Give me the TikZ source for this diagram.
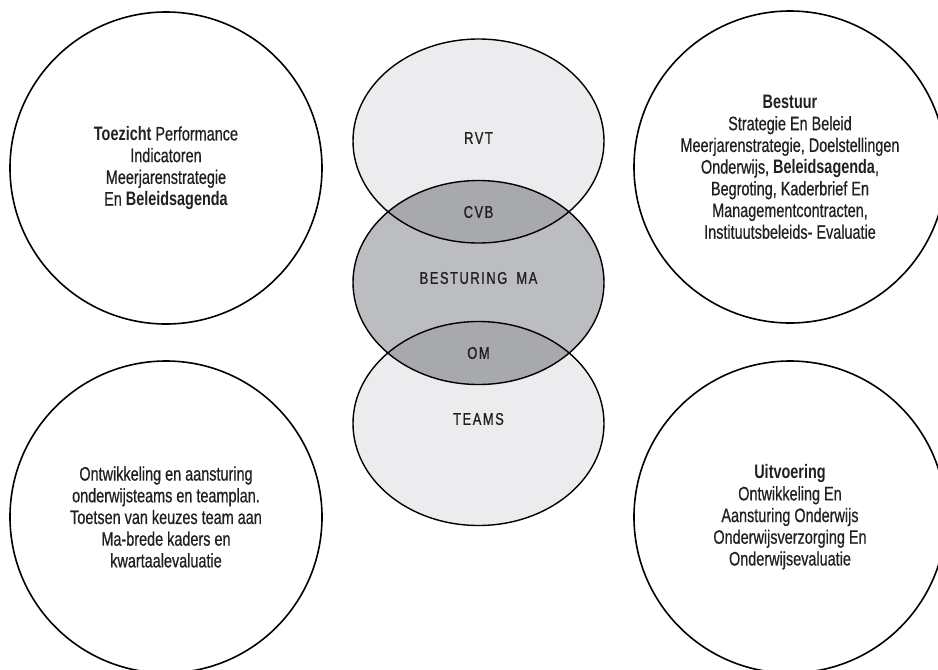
\documentclass[tikz,border=0pt]{standalone}
\usepackage{fontspec}
\setmainfont{Liberation Sans}[FakeStretch=0.74, UprightFeatures={FakeBold=0.6}]
\newfontfamily\labelfont{Liberation Sans}[FakeStretch=0.76, LetterSpace=9, UprightFeatures={FakeBold=0.9}]
\usetikzlibrary{shapes.geometric}
\definecolor{ink}{HTML}{231F20}
\definecolor{paleFill}{HTML}{ECECEE}
\definecolor{midFill}{HTML}{BCBDC0}
\definecolor{darkFill}{HTML}{A8A9AC}

\begin{document}
\begin{tikzpicture}[x=1pt, y=-1pt,
  outer/.style={circle, draw=black, line width=1.6pt, minimum size=312pt,
    inner sep=0pt, align=center, text=ink, font=\fontsize{19.5}{21.7}\selectfont},
  vennfill/.style={ellipse, minimum width=251pt, minimum height=204pt, inner sep=0pt},
  vennline/.style={draw=black, line width=1.4pt},
  tag/.style={text=ink, font=\labelfont\fontsize{17}{19}\selectfont}]

\useasboundingbox (0,0) rectangle (938,670);

% four outer circles
\node[outer] (toezicht) at (166,168)
  {\textbf{Toezicht} Performance\\ Indicatoren\\ Meerjarenstrategie\\ En \textbf{Beleidsagenda}};
\node[outer] (bestuur) at (790,167)
  {\textbf{Bestuur}\\ Strategie En Beleid\\ Meerjarenstrategie, Doelstellingen\\
   Onderwijs, \textbf{Beleidsagenda},\\ Begroting, Kaderbrief En\\
   Managementcontracten,\\ Instituutsbeleids- Evaluatie};
\node[outer] (teamplan) at (166,517)
  {Ontwikkeling en aansturing\\ onderwijsteams en teamplan.\\
   Toetsen van keuzes team aan\\ Ma-brede kaders en\\ kwartaalevaluatie};
\node[outer] (uitvoering) at (790,517)
  {\textbf{Uitvoering}\\ Ontwikkeling En\\ Aansturing Onderwijs\\
   Onderwijsverzorging En\\ Onderwijsevaluatie};

% central stack of three ellipses
\node[vennfill, fill=paleFill] (rvt) at (478.5,141) {};
\node[vennfill, fill=paleFill] (teams) at (478.5,423.5) {};
\node[vennfill, fill=midFill] (ma) at (478.5,282.5) {};

% overlaps
\begin{scope}
  \clip (rvt.center) ellipse [x radius=125.5, y radius=102];
  \fill[darkFill] (ma.center) ellipse [x radius=125.5, y radius=102];
\end{scope}
\begin{scope}
  \clip (teams.center) ellipse [x radius=125.5, y radius=102];
  \fill[darkFill] (ma.center) ellipse [x radius=125.5, y radius=102];
\end{scope}

% outlines
\draw[vennline] (rvt.center) ellipse [x radius=125.5, y radius=102];
\draw[vennline] (ma.center) ellipse [x radius=125.5, y radius=102];
\draw[vennline] (teams.center) ellipse [x radius=125.5, y radius=102];

% labels
\node[tag] (lrvt) at (478.5,138) {RVT};
\node[tag] (lcvb) at (478.5,212) {CVB};
\node[tag] (lma) at (478.5,278) {BESTURING\hspace{4pt} MA};
\node[tag] (lom) at (478.5,353) {OM};
\node[tag] (lteams) at (478.5,419) {TEAMS};
\end{tikzpicture}
\end{document}
